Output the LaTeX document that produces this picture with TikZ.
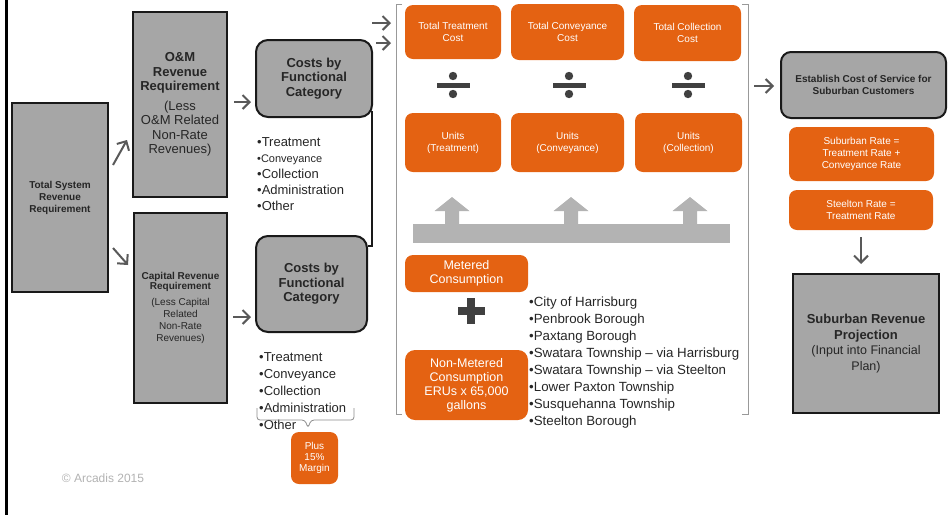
\documentclass[tikz,border=0pt]{standalone}
\usepackage{fontspec}
\setmainfont{Liberation Sans}
\usetikzlibrary{arrows.meta}
\definecolor{arcorange}{HTML}{E46212}
\definecolor{boxgray}{HTML}{A6A6A6}
\definecolor{arrowgray}{HTML}{595959}
\definecolor{signgray}{HTML}{404040}
\definecolor{textgray}{HTML}{262626}
\definecolor{bargray}{HTML}{B3B3B3}
\def\fsz#1#2{\fontsize{#1}{#2}\selectfont}

\begin{document}
\begin{tikzpicture}[x=1pt, y=-1pt,
	graybox/.style={draw=black!90, line width=2pt, fill=boxgray, text=textgray, align=center, inner sep=0pt},
	roundbox/.style={graybox, rounded corners=12pt},
	orangebox/.style={fill=arcorange, text=white, rounded corners=8pt, align=center, inner sep=0pt, font=\fsz{10}{12}},
	flow/.style={line width=2pt, color=arrowgray, -{Straight Barb[length=7pt,width=14pt]}},
	listtext/.style={anchor=north west, align=left, inner sep=0pt, text=textgray}]
			%%%%% START %%%%%
			\useasboundingbox (0, 0) rectangle (951, 515);
			
			\draw[line width=3pt] (6, 0) -- (6, 515);
			
			% revenue requirement
			\node[graybox, minimum width=96pt, minimum height=189pt, font=\bfseries\fsz{10}{12}] (total) at (60, 197.5) {Total System\\Revenue\\Requirement};
			\node[graybox, minimum width=94pt, minimum height=185pt, font=\fsz{13}{14.5}] (om) at (180, 104.5) {\textbf{O\&M}\\\textbf{Revenue}\\\textbf{Requirement}\\[5pt](Less\\O\&M Related\\Non-Rate\\Revenues)};
			\node[graybox, minimum width=93pt, minimum height=190pt, font=\fsz{10}{12}] (capital) at (180.5, 308) {\textbf{Capital Revenue}\\[-2pt]\textbf{Requirement}\\[4pt](Less Capital\\Related\\Non-Rate\\Revenues)};
			
			\draw[flow] ([shift={(4,-32.5)}]total.east) -- ([shift={(-5,35.5)}]om.west);
			\draw[flow] ([shift={(4,50.5)}]total.east) -- ([shift={(-5,-43)}]capital.west);
			
			% costs by category
			\node[roundbox, minimum width=116pt, minimum height=77pt, font=\bfseries\fsz{13}{14.5}] (costsA) at (314, 78.5) {Costs by\\Functional\\Category};
			\node[roundbox, minimum width=111pt, minimum height=96pt, font=\bfseries\fsz{13}{14.5}] (costsB) at (311.5, 284) {Costs by\\Functional\\Category};
			
			\draw[flow] ([shift={(6,-2.5)}]om.east) -- ([shift={(-4,23.5)}]costsA.west);
			\draw[flow] ([shift={(5,9)}]capital.east) -- ([shift={(-4,33)}]costsB.west);
			\draw[line width=2pt, color=black!90] ([shift={(0,11)}]costsB.north east) -| ([shift={(-1,-7)}]costsA.south east);
			
			\node[listtext, font=\fsz{13}{16}] (catA) at (257, 137.5) {•Treatment\\{\fsz{11}{16}•Conveyance}\\•Collection\\•Administration\\•Other};
			\node[listtext, font=\fsz{13}{17}] (catB) at (259, 352) {•Treatment\\•Conveyance\\•Collection\\•Administration\\•Other};
			
			\draw[color=black!45, line width=0.8pt, rounded corners=3pt] (257, 408) -- (257, 420) -- (305, 420) -- (308, 428) -- (311, 420) -- (354, 420) -- (354, 408);
			\node[orangebox, minimum width=47pt, minimum height=52pt, font=\fsz{10}{11}] (margin) at (314.5, 458) {Plus\\15\%\\Margin};
			
			\node[text=black!30, font=\fsz{12}{14}, inner sep=0pt] (copy) at (103, 478) {© Arcadis 2015};
			
			% unit cost frame
			\coordinate (frameNW) at (396, 4);
			\coordinate (frameNE) at (748, 4);
			\draw[color=black!40, line width=1pt] (402, 4) -| (396, 414) -- (402, 414);
			\draw[color=black!40, line width=1pt] (742, 4) -| (748, 414) -- (742, 414);
			
			\draw[flow] ([shift={(-24,19)}]frameNW) -- ([shift={(-5,19)}]frameNW);
			\draw[flow] ([shift={(3,-35.5)}]costsA.east) -- ([shift={(-5,39)}]frameNW);
			
			\node[orangebox, minimum width=96pt, minimum height=54pt] (tcost) at (453, 32) {Total Treatment\\Cost};
			\node[orangebox, minimum width=113pt, minimum height=56pt] (ccost) at (567.5, 32) {Total Conveyance\\Cost};
			\node[orangebox, minimum width=107pt, minimum height=56pt] (lcost) at (687.5, 33) {Total Collection\\Cost};
			
			\foreach \dx in {453, 569, 688} {
				\fill[signgray] (\dx, 76) circle (4.2);
				\fill[signgray] (\dx, 94) circle (4.2);
				\fill[signgray] ({\dx-16.5}, 82.5) rectangle ({\dx+16.5}, 87.5);
			}
			
			\node[orangebox, minimum width=96pt, minimum height=59pt] (tunits) at (453, 142.5) {Units\\(Treatment)};
			\node[orangebox, minimum width=113pt, minimum height=59pt] (cunits) at (567.5, 142.5) {Units\\(Conveyance)};
			\node[orangebox, minimum width=107pt, minimum height=59pt] (lunits) at (688.5, 142.5) {Units\\(Collection)};
			
			\foreach \bx in {452, 571, 690}
				\fill[bargray] ({\bx-7}, 224) -- ({\bx-7}, 211) -- ({\bx-17.5}, 211) -- (\bx, 197) -- ({\bx+17.5}, 211) -- ({\bx+7}, 211) -- ({\bx+7}, 224) -- cycle;
			\fill[bargray] (413, 224) rectangle (730, 243);
			
			% consumption
			\node[orangebox, minimum width=123pt, minimum height=37pt, font=\fsz{12.5}{14}] (metered) at (466.5, 273.5) {Metered\\Consumption};
			\fill[signgray] (457.5, 307) rectangle (484.5, 315);
			\fill[signgray] (467, 298) rectangle (475, 324);
			\node[orangebox, minimum width=123pt, minimum height=70pt, font=\fsz{12.5}{14}, rounded corners=10pt] (nonmetered) at (466.5, 385) {Non-Metered\\Consumption\\ERUs x 65,000\\gallons};
			
			\node[listtext, font=\fsz{13.3}{17}] (towns) at (529, 297) {•City of Harrisburg\\•Penbrook Borough\\•Paxtang Borough\\•Swatara Township – via Harrisburg\\•Swatara Township – via Steelton\\•Lower Paxton Township\\•Susquehanna Township\\•Steelton Borough};
			
			% suburban rates
			\node[roundbox, rounded corners=10pt, minimum width=165pt, minimum height=66pt, font=\bfseries\fsz{10}{11.5}] (establish) at (863.5, 85) {Establish Cost of Service for\\Suburban Customers};
			\draw[flow] ([shift={(6,82)}]frameNE) -- ([shift={(-6,1)}]establish.west);
			
			\node[orangebox, minimum width=145pt, minimum height=54pt] (subrate) at (861.5, 154) {Suburban Rate =\\Treatment Rate +\\Conveyance Rate};
			\node[orangebox, minimum width=144pt, minimum height=40pt, font=\fsz{10}{12.5}] (steelrate) at (861, 210) {Steelton Rate =\\Treatment Rate};
			
			\node[graybox, minimum width=146pt, minimum height=139pt, font=\fsz{13}{15.5}] (projection) at (866, 343.5) {\textbf{Suburban Revenue}\\\textbf{Projection}\\{\fsz{12.5}{15.5}(Input into Financial}\\{\fsz{12.5}{15.5}Plan)}};
			\draw[flow] ([yshift=-7pt]steelrate.south) -- ([shift={(-5,-9)}]projection.north);
			
			%%%%% END %%%%%
\end{tikzpicture}
\end{document}
